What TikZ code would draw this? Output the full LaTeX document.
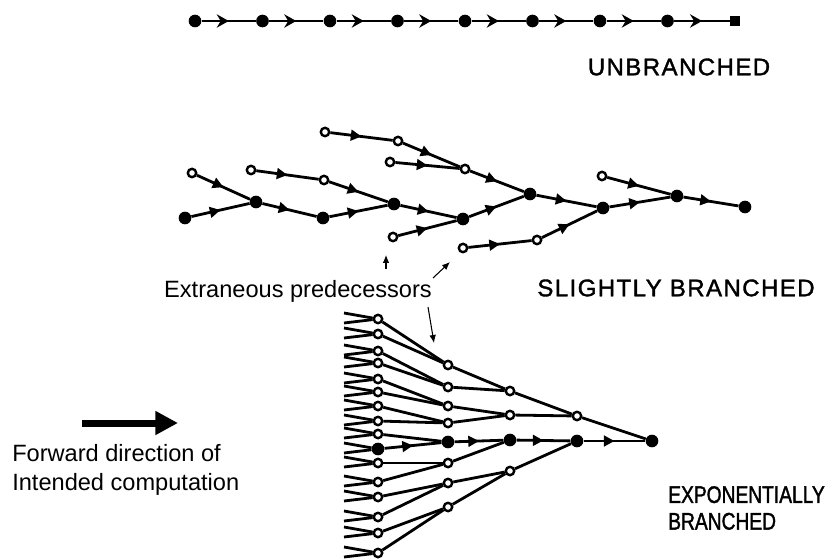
\documentclass[tikz,border=0pt]{standalone}
\usepackage{fontspec}
\setmainfont{Liberation Sans}
\newfontfamily\capsfont[LetterSpace=6,FakeBold=1.5]{Liberation Sans}
\newfontfamily\capsfontnarrow[FakeStretch=0.8,FakeBold=1.5]{Liberation Sans}
\usetikzlibrary{arrows.meta,decorations.markings}
\pgfdeclarelayer{wires}
\pgfsetlayers{wires,main}

\begin{document}
\begin{tikzpicture}[x=0.75pt,y=-0.75pt,
  dot/.style={circle,fill=black,inner sep=0pt,minimum size=9.5pt},
  hollow/.style={circle,draw=black,fill=white,line width=1.8pt,inner sep=0pt,minimum size=6.3pt},
  endsq/.style={rectangle,fill=black,inner sep=0pt,minimum width=7pt,minimum height=8pt},
  wire/.style={line width=2.1pt},
  flow/.style={wire,postaction={decorate},
    decoration={markings,mark=at position 0.5 with {\arrow{Triangle[length=8pt,width=8pt]}}}},
  chainflow/.style={line width=1.6pt,postaction={decorate},
    decoration={markings,mark=at position 0.5 with {\arrow{Stealth[length=9pt,width=10pt,inset=3pt]}}}},
  pointer/.style={line width=0.8pt,-{Latex[length=6pt,width=5pt]}},
  caption/.style={font=\fontsize{17.7pt}{21.5pt}\selectfont,inner sep=0pt},
  caps/.style={font=\capsfont\fontsize{18pt}{20pt}\selectfont,inner sep=0pt},
  capsnarrow/.style={font=\capsfontnarrow\fontsize{18pt}{20pt}\selectfont,inner sep=0pt,align=left}]

\useasboundingbox (0,0) rectangle (827,559);

% ---------- unbranched chain ----------
\foreach \i in {0,...,7} {
  \node[dot] (u\i) at ({195+67.5*\i},21) {};
}
\node[endsq] (u8) at (735,21) {};
\begin{pgfonlayer}{wires}
\foreach \i [evaluate=\i as \j using int(\i+1)] in {0,...,7} {
  \draw[chainflow] (u\i) -- (u\j);
}
\end{pgfonlayer}
\node[caps] (lblun) at (679,67) {UNBRANCHED};

% ---------- slightly branched tree ----------
\node[hollow] (sa) at (325,132) {};
\node[hollow] (sb) at (398,141) {};
\node[hollow] (sc) at (390,162) {};
\node[hollow] (sd) at (465,169) {};
\node[hollow] (se) at (192,173) {};
\node[hollow] (sf) at (251,170) {};
\node[hollow] (sg) at (324,180) {};
\node[dot]    (sh) at (256,202) {};
\node[dot]    (si) at (185,218) {};
\node[dot]    (sj) at (323,218) {};
\node[dot]    (sk) at (394,204) {};
\node[dot]    (sl) at (463,219) {};
\node[hollow] (sm) at (393,237) {};
\node[dot]    (sn) at (530,194) {};
\node[hollow] (so) at (463,248) {};
\node[hollow] (sp) at (537,240) {};
\node[dot]    (sq) at (603,208) {};
\node[hollow] (sr) at (602,176) {};
\node[dot]    (ss) at (677,196) {};
\node[dot]    (st) at (745,207) {};
\begin{pgfonlayer}{wires}
\foreach \a/\b in {sa/sb,sb/sd,sc/sd,sd/sn,se/sh,si/sh,sf/sg,sg/sk,sh/sj,sj/sk,
                   sk/sl,sm/sl,sl/sn,sn/sq,so/sp,sp/sq,sq/ss,sr/ss,ss/st} {
  \draw[flow] (\a) -- (\b);
}
\end{pgfonlayer}
\node[caps] (lblsl) at (676,288) {SLIGHTLY BRANCHED};

% ---------- extraneous predecessors ----------
\node[caption,anchor=base] (lblex) at (298,298) {Extraneous predecessors};
\coordinate (pa1) at (386,269); \coordinate (pa2) at (386,255);
\coordinate (pb1) at (433,278); \coordinate (pb2) at (450,262);
\coordinate (pc1) at (428,307); \coordinate (pc2) at (434,343);
\draw[pointer] (pa1) -- (pa2);
\draw[pointer] (pb1) -- (pb2);
\draw[pointer] (pc1) -- (pc2);

% ---------- exponentially branched tree ----------
\foreach \y [count=\i from 0] in {319,334,351,363,379,392,406,421,434,449,463,482,497,517,533,553} {
  \ifnum\i=9 \node[dot] (e0-\i) at (378,\y) {}; \else \node[hollow] (e0-\i) at (378,\y) {}; \fi
  \coordinate (q\i a) at (344,\y-6);
  \coordinate (q\i b) at (344,\y+4);
}
\foreach \y [count=\i from 0] in {365,387,406,423,442,463,483,507} {
  \ifnum\i=4 \node[dot] (e1-\i) at (448,\y) {}; \else \node[hollow] (e1-\i) at (448,\y) {}; \fi
}
\foreach \y [count=\i from 0] in {391,415,440,471} {
  \ifnum\i=2 \node[dot] (e2-\i) at (510,\y) {}; \else \node[hollow] (e2-\i) at (510,\y) {}; \fi
}
\node[hollow] (e3-0) at (577,416) {};
\node[dot]    (e3-1) at (577,441) {};
\node[dot]    (e4-0) at (652,441) {};
\begin{pgfonlayer}{wires}
\foreach \i in {0,...,15} {
  \draw[wire] (q\i a) -- (e0-\i);
  \draw[wire] (q\i b) -- (e0-\i);
  \pgfmathtruncatemacro\j{int(\i/2)}
  \ifnum\i=9 \draw[flow] (e0-\i) -- (e1-\j); \else \draw[wire] (e0-\i) -- (e1-\j); \fi
}
\foreach \i in {0,...,7} {
  \pgfmathtruncatemacro\j{int(\i/2)}
  \ifnum\i=4 \draw[flow] (e1-\i) -- (e2-\j); \else \draw[wire] (e1-\i) -- (e2-\j); \fi
}
\foreach \i in {0,...,3} {
  \pgfmathtruncatemacro\j{int(\i/2)}
  \ifnum\i=2 \draw[flow] (e2-\i) -- (e3-\j); \else \draw[wire] (e2-\i) -- (e3-\j); \fi
}
\draw[wire] (e3-0) -- (e4-0);
\draw[flow] (e3-1) -- (e4-0);
\end{pgfonlayer}
\node[capsnarrow,anchor=west] (lblexp) at (668,508) {EXPONENTIALLY\\BRANCHED};

% ---------- forward direction ----------
\coordinate (fwdtail) at (82,423);
\coordinate (fwdhead) at (178,423);
\draw[line width=5.25pt,-{Triangle[length=17pt,width=17pt]}] (fwdtail) -- (fwdhead);
\node[caption,anchor=west,align=left] (lblfwd) at (12,470) {Forward direction of\\Intended computation};

\end{tikzpicture}
\end{document}
